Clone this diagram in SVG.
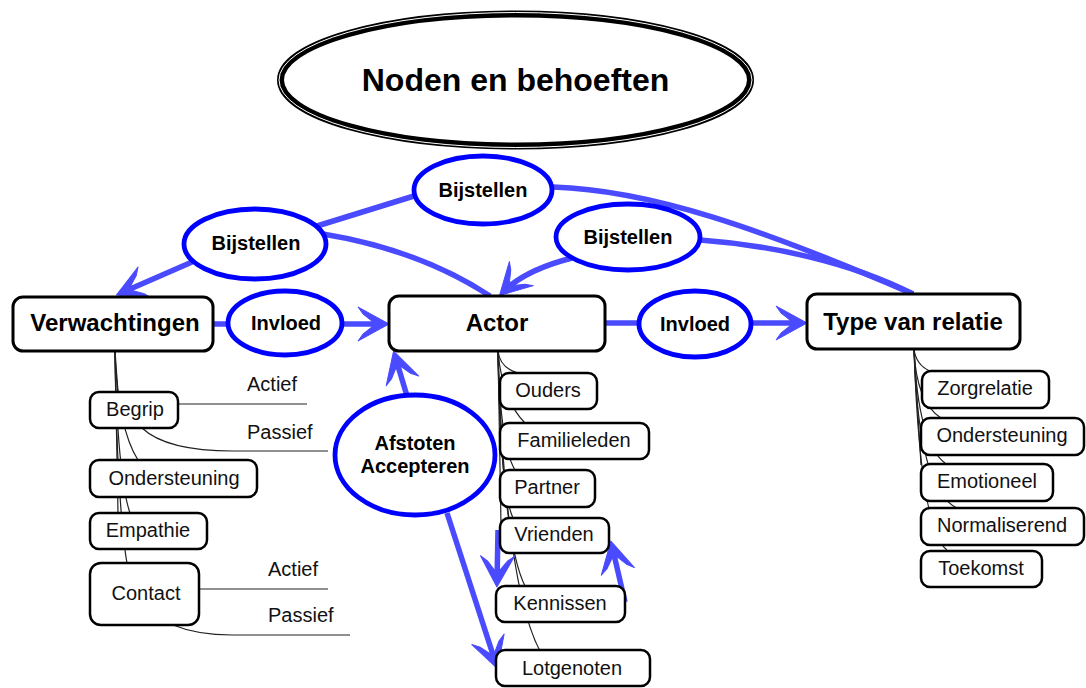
<svg xmlns="http://www.w3.org/2000/svg" width="1086" height="688" viewBox="0 0 1086 688">
<style>
  .bg{fill:#ffffff}
  .bubble{fill:#ffffff;stroke:#0000ff;stroke-width:4.8}
  .main{fill:#ffffff;stroke:#000000;stroke-width:3}
  .sub{fill:#ffffff;stroke:#000000;stroke-width:2.5}
  .arrow{fill:none;stroke:#4a4aff;stroke-width:5.5}
  .thin{fill:none;stroke:#222222;stroke-width:1.2}
  text{font-family:"Liberation Sans",Arial,sans-serif;fill:#000000}
  .tb{font-weight:bold;font-size:20px;text-anchor:middle}
  .tm{font-weight:bold;font-size:24px;text-anchor:middle}
  .ts{font-size:20px;text-anchor:middle;fill:#111111}
  .tl{font-size:20px;fill:#111111}
</style>
<defs>
  <marker id="ah" markerUnits="userSpaceOnUse" markerWidth="40" markerHeight="40" viewBox="-30 -20 40 40" refX="0" refY="0" orient="auto" overflow="visible">
    <path d="M5,0 L-26,-17 L-21,-10 L-12,-2.8 L-12,2.8 L-21,10 L-26,17 Z" fill="#4a4aff" stroke="#4a4aff" stroke-width="1" stroke-linejoin="round"/>
  </marker>
</defs>
<rect class="bg" x="0" y="0" width="1086" height="688"/>

<g id="connectors">
  <!-- thin tree lines: Verwachtingen -->
  <path class="thin" d="M115,351 L118,392"/>
  <path class="thin" d="M115,351 L118,513"/>
  <path class="thin" d="M115,351 C116,400 125,440 138,460"/>
  <path class="thin" d="M115,351 C116,430 122,490 130,513"/>
  <path class="thin" d="M115,351 C116,450 121,530 127,563"/>
  <path class="thin" d="M178,404 L307,404"/>
  <path class="thin" d="M142,428 C160,445 195,451 233,451 L328,451"/>
  <path class="thin" d="M199,589 L328,589"/>
  <path class="thin" d="M173,625 C190,632 210,635 232,635 L350,635"/>
  <!-- thin tree lines: Actor -->
  <path class="thin" d="M498,351 L501,525"/>
  <path class="thin" d="M498,351 Q500,368 518,373"/>
  <path class="thin" d="M498,351 Q502,400 525,423"/>
  <path class="thin" d="M498,351 Q500,445 515,470"/>
  <path class="thin" d="M498,351 Q500,490 513,518"/>
  <path class="thin" d="M498,351 Q502,540 525,586"/>
  <path class="thin" d="M498,351 Q505,585 540,651"/>
  <!-- thin tree lines: Type van relatie -->
  <path class="thin" d="M914,349 L921,465"/>
  <path class="thin" d="M914,349 Q916,365 930,371"/>
  <path class="thin" d="M914,349 Q916,402 941,418"/>
  <path class="thin" d="M914,349 Q918,443 945,463"/>
  <path class="thin" d="M914,349 Q918,490 957,508"/>
  <path class="thin" d="M914,349 Q920,530 947,550"/>

  <!-- blue connectors -->
  <path class="arrow" d="M213,324 L229,324"/>
  <path class="arrow" d="M341,324 L384,324" marker-end="url(#ah)"/>
  <path class="arrow" d="M605,323 L640,323"/>
  <path class="arrow" d="M751,323 L802,323" marker-end="url(#ah)"/>
  <path class="arrow" d="M192,262 L121,293" marker-end="url(#ah)"/>
  <path class="arrow" d="M317,226 L414,196"/>
  <path class="arrow" d="M323,234 Q420,250 490,296"/>
  <path class="arrow" d="M553,187 C650,190 760,228 913,294"/>
  <path class="arrow" d="M700,240 C770,245 850,262 913,294"/>
  <path class="arrow" d="M572,258 Q525,270 503,292" marker-end="url(#ah)"/>
  <path class="arrow" d="M407,396 L395,356" marker-end="url(#ah)"/>
  <path class="arrow" d="M447,513 L496,664" marker-end="url(#ah)"/>
  <path class="arrow" d="M498,530 L497,582" marker-end="url(#ah)"/>
  <path class="arrow" d="M625,602 L612,546" marker-end="url(#ah)"/>
</g>

<g id="title">
  <ellipse cx="515.5" cy="80" rx="235" ry="66" fill="#ffffff" stroke="#000000" stroke-width="7"/>
  <ellipse cx="515.5" cy="80" rx="236.5" ry="67.5" fill="none" stroke="#ffffff" stroke-width="1"/>
  <text x="515.5" y="91" font-size="32" font-weight="bold" text-anchor="middle">Noden en behoeften</text>
</g>

<g id="bijstellen-top">
  <ellipse class="bubble" cx="483" cy="190" rx="69" ry="34"/>
  <text class="tb" x="483" y="197">Bijstellen</text>
</g>
<g id="bijstellen-left">
  <ellipse class="bubble" cx="255" cy="244" rx="71" ry="35"/>
  <text class="tb" x="256" y="250">Bijstellen</text>
</g>
<g id="bijstellen-right">
  <ellipse class="bubble" cx="628" cy="237" rx="72" ry="33"/>
  <text class="tb" x="628" y="244">Bijstellen</text>
</g>
<g id="invloed-left">
  <ellipse class="bubble" cx="285" cy="323" rx="57" ry="32"/>
  <text class="tb" x="286" y="330" font-size="19">Invloed</text>
</g>
<g id="invloed-right">
  <ellipse class="bubble" cx="695" cy="324" rx="56" ry="33"/>
  <text class="tb" x="695" y="331" font-size="19">Invloed</text>
</g>
<g id="afstoten">
  <ellipse class="bubble" cx="415" cy="455" rx="80" ry="60"/>
  <text class="tb" x="415" y="450">Afstoten</text>
  <text class="tb" x="415" y="473">Accepteren</text>
</g>

<g id="verwachtingen">
  <rect class="main" x="13" y="297" width="200" height="54" rx="10"/>
  <text class="tm" x="115" y="331">Verwachtingen</text>
</g>
<g id="actor">
  <rect class="main" x="389" y="296" width="216" height="55" rx="10"/>
  <text class="tm" x="497" y="331">Actor</text>
</g>
<g id="type-van-relatie">
  <rect class="main" x="807" y="294" width="213" height="55" rx="10"/>
  <text class="tm" x="913" y="330">Type van relatie</text>
</g>

<g id="begrip">
  <rect class="sub" x="90" y="392" width="88" height="36" rx="9"/>
  <text class="ts" x="135" y="416">Begrip</text>
</g>
<g id="begrip-actief"><text class="tl" x="247" y="391">Actief</text></g>
<g id="begrip-passief"><text class="tl" x="247" y="439">Passief</text></g>
<g id="ondersteuning-v">
  <rect class="sub" x="90" y="460" width="167" height="37" rx="9"/>
  <text class="ts" x="174" y="485">Ondersteuning</text>
</g>
<g id="empathie">
  <rect class="sub" x="90" y="513" width="117" height="36" rx="9"/>
  <text class="ts" x="148" y="537">Empathie</text>
</g>
<g id="contact">
  <rect class="sub" x="90" y="563" width="109" height="62" rx="11"/>
  <text class="ts" x="146" y="600">Contact</text>
</g>
<g id="contact-actief"><text class="tl" x="268" y="576">Actief</text></g>
<g id="contact-passief"><text class="tl" x="268" y="622">Passief</text></g>

<g id="ouders">
  <rect class="sub" x="500" y="373" width="97" height="36" rx="9"/>
  <text class="ts" x="548" y="397">Ouders</text>
</g>
<g id="familieleden">
  <rect class="sub" x="500" y="423" width="149" height="36" rx="9"/>
  <text class="ts" x="574" y="447">Familieleden</text>
</g>
<g id="partner">
  <rect class="sub" x="500" y="470" width="95" height="37" rx="9"/>
  <text class="ts" x="547" y="494">Partner</text>
</g>
<g id="vrienden">
  <rect class="sub" x="500" y="518" width="109" height="35" rx="9"/>
  <text class="ts" x="554" y="541">Vrienden</text>
</g>
<g id="kennissen">
  <rect class="sub" x="496" y="586" width="129" height="36" rx="9"/>
  <text class="ts" x="560" y="610">Kennissen</text>
</g>
<g id="lotgenoten">
  <rect class="sub" x="496" y="650" width="154" height="36" rx="9"/>
  <text class="ts" x="572" y="675">Lotgenoten</text>
</g>

<g id="zorgrelatie">
  <rect class="sub" x="922" y="371" width="127" height="37" rx="9"/>
  <text class="ts" x="985" y="395">Zorgrelatie</text>
</g>
<g id="ondersteuning-t">
  <rect class="sub" x="921" y="418" width="163" height="37" rx="9"/>
  <text class="ts" x="1002" y="442">Ondersteuning</text>
</g>
<g id="emotioneel">
  <rect class="sub" x="921" y="464" width="132" height="37" rx="9"/>
  <text class="ts" x="987" y="488">Emotioneel</text>
</g>
<g id="normaliserend">
  <rect class="sub" x="921" y="508" width="163" height="37" rx="9"/>
  <text class="ts" x="1002" y="532">Normaliserend</text>
</g>
<g id="toekomst">
  <rect class="sub" x="921" y="551" width="121" height="36" rx="9"/>
  <text class="ts" x="981" y="575">Toekomst</text>
</g>
</svg>
